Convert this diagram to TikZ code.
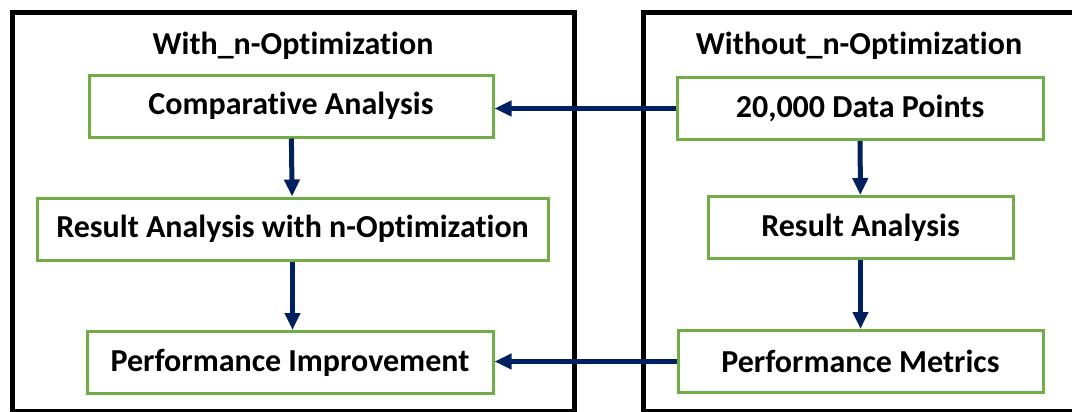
\documentclass[tikz,border=0pt]{standalone}
\usepackage{fontspec}
\setmainfont{Carlito}[Ligatures=NoCommon]
\usetikzlibrary{
    arrows.meta,
    positioning,
    calc
}
\definecolor{boxgreen}{RGB}{112, 173, 71}
\definecolor{arrownavy}{RGB}{0, 32, 96}

\begin{document}
\begin{tikzpicture}[
        x=0.5pt, y=-0.5pt,
        panel/.style={rectangle, draw=black, line width=2.5pt, minimum height=199.5pt, inner sep=0pt},
        title/.style={font=\fontsize{16}{19}\selectfont\bfseries},
        box/.style={rectangle, draw=boxgreen, line width=1.5pt, minimum height=31pt, align=center, font=\fontsize{16}{19}\selectfont\bfseries},
        arrow/.style={-{Triangle[length=8.5pt, width=7.5pt]}, line width=2.5pt, draw=arrownavy}
    ]
        \clip (0,0) rectangle (1072,412);

        % the two panels
        \node[panel, minimum width=281.25pt] (with) at (293.5,212) {};
        \node[panel, minimum width=216.5pt] (without) at (859.5,212) {};
        \node[title] (withtitle) at (293,46) {With\_n-Optimization};
        \node[title] (withouttitle) at (859,46) {Without\_n-Optimization};

        \node[box, minimum width=202pt] (compare) at (291,106) {Comparative Analysis};
        \node[box, minimum width=255.5pt] (result_n) at (292.5,229) {Result Analysis with n-Optimization};
        \node[box, minimum width=203pt] (improve) at (290,362.5) {Performance Improvement};

        \node[box, minimum width=183pt] (data) at (860,108.5) {20,000 Data Points};
        \node[box, minimum width=152.5pt] (result) at (860.5,227.5) {Result Analysis};
        \node[box, minimum width=182.5pt] (metrics) at (860.5,361.5) {Performance Metrics};

        \draw[arrow] (compare) -- (result_n);
        \draw[arrow] (result_n) -- (result_n |- improve.north);
        \draw[arrow] (data) -- (result);
        \draw[arrow] (result) -- (metrics);
        \draw[arrow] (data.west) -- (data.west -| compare.east);
        \draw[arrow] (metrics.west) -- (metrics.west -| improve.east);
    \end{tikzpicture}
\end{document}
